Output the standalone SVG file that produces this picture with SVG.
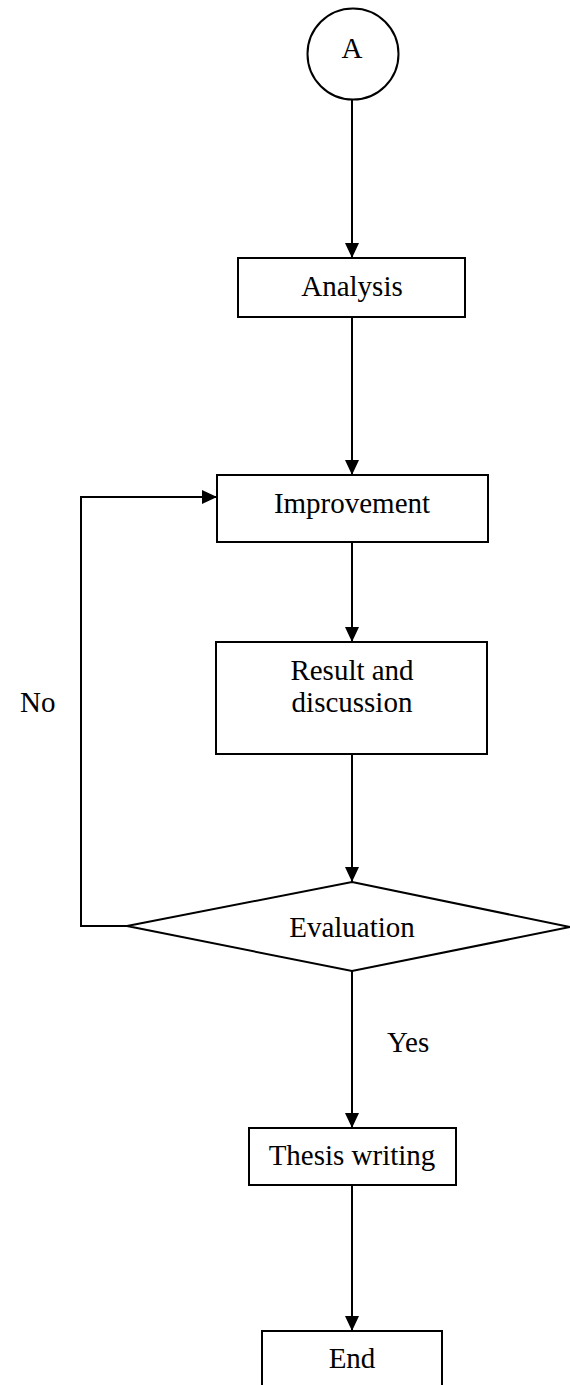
<svg xmlns="http://www.w3.org/2000/svg" width="570" height="1385" viewBox="0 0 570 1385">
<style>
.box{fill:#fff;stroke:#000;stroke-width:2}
.t{font-family:"Liberation Serif","Times New Roman",serif;font-size:29px;fill:#000;text-anchor:middle}
.l{font-family:"Liberation Serif","Times New Roman",serif;font-size:29px;fill:#000}
.c{fill:none;stroke:#000;stroke-width:2}
</style>
<defs>
<marker id="ah" viewBox="0 0 15 14" refX="15" refY="7" markerWidth="15" markerHeight="14" markerUnits="userSpaceOnUse" orient="auto">
<path d="M0,0 L15,7 L0,14 Z" fill="#000"/>
</marker>
</defs>
<rect width="570" height="1385" fill="#fff"/>
<g id="connectors">
<line class="c" x1="352" y1="100" x2="352" y2="258" marker-end="url(#ah)"/>
<line class="c" x1="352" y1="317" x2="352" y2="475" marker-end="url(#ah)"/>
<line class="c" x1="352" y1="542" x2="352" y2="642" marker-end="url(#ah)"/>
<line class="c" x1="352" y1="754" x2="352" y2="882" marker-end="url(#ah)"/>
<polyline class="c" points="127,926 81,926 81,497 217,497" marker-end="url(#ah)"/>
<line class="c" x1="352" y1="971" x2="352" y2="1128" marker-end="url(#ah)"/>
<line class="c" x1="352" y1="1185" x2="352" y2="1331" marker-end="url(#ah)"/>
<text class="l" x="20" y="712">No</text>
<text class="l" x="387" y="1052">Yes</text>
</g>
<g id="nodeA">
<circle class="box" cx="353" cy="54" r="45.5"/>
<text class="t" x="352" y="58">A</text>
</g>
<g id="analysis">
<rect class="box" x="238" y="258" width="227" height="59"/>
<text class="t" x="352" y="296">Analysis</text>
</g>
<g id="improvement">
<rect class="box" x="217" y="475" width="271" height="67"/>
<text class="t" x="352" y="513">Improvement</text>
</g>
<g id="result">
<rect class="box" x="216" y="642" width="271" height="112"/>
<text class="t" x="352" y="680">Result and</text>
<text class="t" x="352" y="712">discussion</text>
</g>
<g id="evaluation">
<polygon class="box" points="352,882 570,927 352,971 127,926"/>
<text class="t" x="352" y="937">Evaluation</text>
</g>
<g id="thesis">
<rect class="box" x="249" y="1128" width="207" height="57"/>
<text class="t" x="352" y="1165">Thesis writing</text>
</g>
<g id="end">
<rect class="box" x="262" y="1331" width="180" height="80"/>
<text class="t" x="352" y="1368">End</text>
</g>
</svg>
